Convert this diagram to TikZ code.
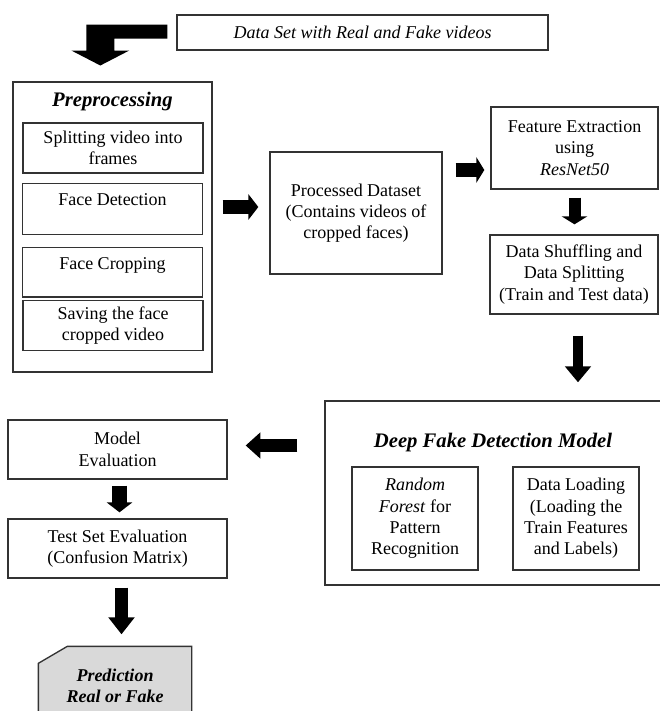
\documentclass[tikz,border=0pt]{standalone}
\usepackage{fontspec}
\setmainfont{Liberation Serif}
\usetikzlibrary{calc}
\usetikzlibrary{arrows.meta}
\usetikzlibrary{backgrounds}

\begin{document}
\begin{tikzpicture}[
x=0.75pt, y=-0.75pt,
flowbox/.style={
  draw=black!80,
  line width=1pt,
  rectangle,
  inner sep=3pt,
  align=center,
  font=\fontsize{13.5}{16}\selectfont},
boxtitle/.style={
  align=center,
  font=\fontsize{15.5}{18}\selectfont\bfseries\itshape},
blockarrow/.style={
  line width=10pt,
  -{Triangle[length=#1,width=19pt]}},
blockarrow/.default=7pt
]
\useasboundingbox (0,0) rectangle (660,711);
\node[flowbox, minimum width=278.25pt, minimum height=26.25pt,
  font=\fontsize{13.5}{16}\selectfont\itshape] (data) at (362.5,32.5)
  {Data Set with Real and Fake videos};
\node[flowbox, minimum width=149.25pt, minimum height=217.5pt] (pre) at (112.5,227) {};
\node[boxtitle] (pretitle) at (112.5,102) {Preprocessing};
\node[flowbox, minimum width=135pt, minimum height=37.5pt] (split) at (113,148)
  {Splitting video into\\frames};
\node[flowbox, anchor=north, minimum width=135pt, text height=13.5pt, text depth=18.75pt]
  (detect) at (112.5,183) {Face Detection};
\node[flowbox, anchor=north, minimum width=135pt, text height=13.5pt, text depth=17.5pt]
  (crop) at (112.5,247) {Face Cropping};
\node[flowbox, minimum width=135pt, minimum height=37.5pt] (save) at (113,325.5)
  {Saving the face\\cropped video};
\node[flowbox, minimum width=129pt, minimum height=91.5pt] (proc) at (356,213)
  {Processed Dataset\\(Contains videos of\\cropped faces)};
\node[flowbox, minimum width=125.25pt, minimum height=61.5pt] (feat) at (574.5,148)
  {Feature Extraction\\using\\\textit{ResNet50}};
\node[flowbox, minimum width=126pt, minimum height=59.25pt] (shuf) at (574,274.5)
  {Data Shuffling and\\Data Splitting\\(Train and Test data)};
\node[flowbox, minimum width=252pt, minimum height=138pt] (dfd) at (493,493) {};
\node[boxtitle] (dfdtitle) at (493,443) {Deep Fake Detection Model};
\node[flowbox, minimum width=94.5pt, minimum height=77.25pt] (rf) at (415,518.5)
  {\textit{Random}\\\textit{Forest} for\\Pattern\\Recognition};
\node[flowbox, minimum width=94.5pt, minimum height=77.25pt] (dl) at (576,518.5)
  {Data Loading\\(Loading the\\Train Features\\and Labels)};
\node[flowbox, minimum width=164.25pt, minimum height=44.25pt] (model) at (117.5,449.5)
  {Model\\Evaluation};
\node[flowbox, minimum width=164.25pt, minimum height=44.25pt] (test) at (117.5,548.5)
  {Test Set Evaluation\\(Confusion Matrix)};
\node[flowbox, draw=none, minimum width=114pt, minimum height=58.5pt,
  font=\fontsize{13.5}{16}\selectfont\bfseries\itshape] (pred) at (115,686)
  {Prediction\\Real or Fake};
\begin{scope}[on background layer]
\filldraw[draw=black!80, line width=1pt, fill=black!15]
  (pred.south west) -- ($(pred.north west)+(0,17)$) -- ($(pred.north west)+(29,0)$)
  -- (pred.north east) -- (pred.south east) -- cycle;
\end{scope}
\fill (data.west) ++(-9,-8) -- ++(-81,0) -- ++(0,26) -- ++(-15,0) -- ++(29,15)
  -- ++(29,-15) -- ++(-15,0) -- ++(0,-12) -- ++(53,0) -- cycle;
\draw[blockarrow=7.5pt, shorten <=7.5pt, shorten >=8.25pt]
  ($(pre.east |- proc.west)+(0,-6)$) -- ($(proc.west)+(0,-6)$);
\draw[blockarrow=6pt, shorten <=9.75pt, shorten >=4.5pt]
  ($(proc.east |- feat.west)+(0,22)$) -- ($(feat.west)+(0,22)$);
\draw[blockarrow=6pt, line width=9pt, shorten <=6pt, shorten >=7.5pt]
  (feat.south) -- (feat.south |- shuf.north);
\draw[blockarrow=12pt, line width=8pt, shorten <=15.75pt, shorten >=13.5pt]
  ($(shuf.south)+(4,0)$) -- ($(shuf.south |- dfd.north)+(4,0)$);
\draw[blockarrow=11pt, shorten <=20.25pt, shorten >=13.5pt]
  ($(dfd.west |- model.east)+(0,-4)$) -- ($(model.east)+(0,-4)$);
\draw[blockarrow=7.5pt, line width=11pt, shorten <=4.5pt, shorten >=4.5pt]
  ($(model.south)+(2,0)$) -- ($(test.north)+(2,0)$);
\draw[blockarrow=12.75pt, shorten <=6.75pt, shorten >=9pt]
  ($(test.south)+(4,0)$) -- ($(test.south |- pred.north)+(4,0)$);
\end{tikzpicture}
\end{document}
